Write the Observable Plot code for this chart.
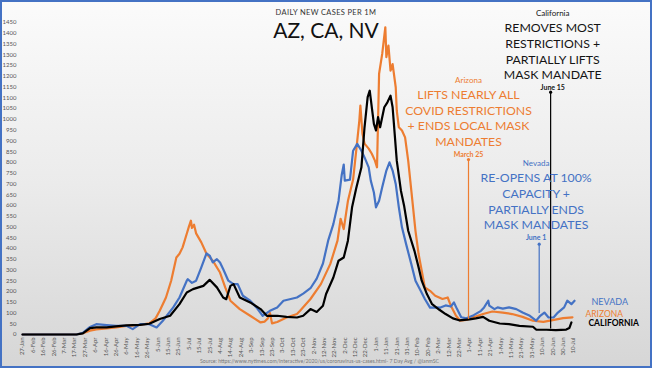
<!DOCTYPE html>
<html>
<head>
<meta charset="utf-8">
<script src="https://cdn.jsdelivr.net/npm/d3@7"></script>
<script src="https://cdn.jsdelivr.net/npm/@observablehq/plot@0.6"></script>
<style>
html, body { margin: 0; padding: 0; background: #fff; }
#frame { position: relative; width: 652px; height: 368px; overflow: hidden;
  background: linear-gradient(#fbfbfb 0%, #ebebeb 50%, #d6d6d6 100%);
  font-family: Lato, "Open Sans", sans-serif; }
#chart { position: absolute; left: 0; top: 0; }
#border { position: absolute; left: 0; top: 0; width: 652px; height: 368px; box-sizing: border-box;
  border: 2px solid #4472c4; pointer-events: none; }
.hdr { position: absolute; left: 176px; width: 300px; text-align: center; line-height: 1; white-space: nowrap; }
#sub { top: 8.5px; font-size: 7.5px; color: #333; letter-spacing: 0.35px; }
#title { top: 19px; font-size: 21px; color: #111; }
#source { position: absolute; left: 200px; top: 359px; font-size: 5.2px; color: #777; line-height: 1; white-space: nowrap; }
</style>
</head>
<body>
<div id="frame">
  <div id="chart"></div>
  <div class="hdr" id="sub">DAILY NEW CASES PER 1M</div>
  <div class="hdr" id="title">AZ, CA, NV</div>
  <div id="source">Source: https://www.nytimes.com/interactive/2020/us/coronavirus-us-cases.html- 7 Day Avg / @ianmSC</div>
  <div id="border"></div>
</div>
<script>
// ---- data (7-day avg daily new cases per 1M) ----
const arizona = [["2020-01-27",0],["2020-03-03",0],["2020-03-19",1],["2020-03-25",6],["2020-04-01",18],["2020-04-07",24],["2020-04-17",28],["2020-04-26",33],["2020-05-06",40],["2020-05-19",45],["2020-05-28",52],["2020-06-03",75],["2020-06-07",110],["2020-06-13",172],["2020-06-18",250],["2020-06-23",358],["2020-06-26",375],["2020-06-29",405],["2020-07-03",468],["2020-07-05",500],["2020-07-07",529],["2020-07-08",495],["2020-07-10",510],["2020-07-12",470],["2020-07-17",428],["2020-07-22",375],["2020-07-28",343],["2020-08-04",288],["2020-08-09",219],["2020-08-14",157],["2020-08-23",118],["2020-09-02",87],["2020-09-12",56],["2020-09-16",60],["2020-09-19",75],["2020-09-21",100],["2020-09-23",52],["2020-09-28",58],["2020-10-07",79],["2020-10-17",95],["2020-10-20",110],["2020-10-30",165],["2020-11-09",234],["2020-11-18",327],["2020-11-25",436],["2020-11-28",538],["2020-12-01",490],["2020-12-05",620],["2020-12-10",720],["2020-12-13",854],["2020-12-16",994],["2020-12-17",1064],["2020-12-19",933],["2020-12-21",887],["2020-12-25",864],["2020-12-28",840],["2020-12-31",808],["2021-01-02",777],["2021-01-04",1212],["2021-01-07",1304],["2021-01-10",1428],["2021-01-11",1289],["2021-01-13",1343],["2021-01-15",1226],["2021-01-17",1257],["2021-01-20",1149],["2021-01-21",1040],["2021-01-23",963],["2021-01-26",948],["2021-01-29",916],["2021-02-01",808],["2021-02-03",715],["2021-02-05",622],["2021-02-08",482],["2021-02-11",374],["2021-02-14",296],["2021-02-17",219],["2021-02-22",203],["2021-02-27",180],["2021-03-06",165],["2021-03-11",172],["2021-03-14",134],["2021-03-19",87],["2021-03-23",64],["2021-03-29",68],["2021-04-04",79],["2021-04-14",95],["2021-04-23",107],["2021-05-03",102],["2021-05-12",95],["2021-05-22",82],["2021-06-01",64],["2021-06-11",59],["2021-06-20",67],["2021-06-30",76],["2021-07-09",80]];

const california = [["2020-01-27",0],["2020-03-19",0],["2020-03-25",5],["2020-04-01",30],["2020-04-07",33],["2020-04-17",33],["2020-04-26",38],["2020-05-06",42],["2020-05-19",45],["2020-05-28",50],["2020-06-07",72],["2020-06-17",87],["2020-06-26",141],["2020-07-03",195],["2020-07-09",211],["2020-07-19",226],["2020-07-25",254],["2020-08-01",219],["2020-08-07",172],["2020-08-10",164],["2020-08-14",226],["2020-08-17",234],["2020-08-23",172],["2020-09-02",149],["2020-09-12",118],["2020-09-18",87],["2020-09-28",87],["2020-10-07",82],["2020-10-17",79],["2020-10-23",87],["2020-10-30",118],["2020-11-05",105],["2020-11-11",134],["2020-11-14",188],["2020-11-21",265],["2020-11-26",343],["2020-12-01",358],["2020-12-05",436],["2020-12-09",591],["2020-12-13",680],["2020-12-18",777],["2020-12-21",963],["2020-12-24",1103],["2020-12-26",1133],["2020-12-28",1056],["2020-12-30",979],["2021-01-01",948],["2021-01-03",1010],["2021-01-05",963],["2021-01-09",1056],["2021-01-12",1079],["2021-01-15",1110],["2021-01-17",1056],["2021-01-19",932],["2021-01-21",808],["2021-01-25",668],["2021-01-28",600],["2021-02-01",482],["2021-02-07",389],["2021-02-11",312],["2021-02-14",250],["2021-02-19",188],["2021-02-24",141],["2021-03-03",115],["2021-03-09",95],["2021-03-16",75],["2021-03-22",66],["2021-04-01",70],["2021-04-07",75],["2021-04-14",82],["2021-04-20",64],["2021-04-30",51],["2021-05-09",48],["2021-05-19",40],["2021-06-01",36],["2021-06-04",23],["2021-06-14",22],["2021-06-23",20],["2021-07-03",23],["2021-07-06",30],["2021-07-08",56]];

const nevada = [["2020-01-27",0],["2020-03-19",0],["2020-03-25",8],["2020-04-01",35],["2020-04-07",48],["2020-04-17",44],["2020-04-26",40],["2020-05-06",40],["2020-05-12",25],["2020-05-19",48],["2020-05-28",48],["2020-06-04",33],["2020-06-10",64],["2020-06-20",126],["2020-06-26",172],["2020-07-03",250],["2020-07-04",257],["2020-07-08",240],["2020-07-12",250],["2020-07-17",312],["2020-07-22",377],["2020-07-25",367],["2020-07-28",335],["2020-08-01",350],["2020-08-04",335],["2020-08-07",304],["2020-08-12",250],["2020-08-17",234],["2020-08-21",234],["2020-08-26",180],["2020-09-02",157],["2020-09-08",126],["2020-09-14",87],["2020-09-21",110],["2020-09-28",126],["2020-10-04",157],["2020-10-10",164],["2020-10-17",172],["2020-10-23",190],["2020-10-30",215],["2020-11-05",260],["2020-11-11",330],["2020-11-16",436],["2020-11-21",513],["2020-11-26",622],["2020-11-29",740],["2020-12-01",790],["2020-12-02",715],["2020-12-07",720],["2020-12-10",854],["2020-12-14",886],["2020-12-18",854],["2020-12-21",823],["2020-12-25",777],["2020-12-27",715],["2020-12-30",660],["2021-01-01",591],["2021-01-04",622],["2021-01-07",684],["2021-01-11",762],["2021-01-14",800],["2021-01-17",762],["2021-01-20",700],["2021-01-23",591],["2021-01-26",498],["2021-01-30",420],["2021-02-04",327],["2021-02-08",250],["2021-02-13",203],["2021-02-17",165],["2021-02-22",125],["2021-02-27",126],["2021-03-04",125],["2021-03-09",135],["2021-03-14",130],["2021-03-17",149],["2021-03-20",118],["2021-03-24",80],["2021-03-29",75],["2021-04-05",90],["2021-04-12",110],["2021-04-15",126],["2021-04-19",157],["2021-04-20",134],["2021-04-25",118],["2021-04-28",126],["2021-05-03",120],["2021-05-09",126],["2021-05-16",118],["2021-05-22",102],["2021-05-29",87],["2021-06-04",64],["2021-06-08",87],["2021-06-12",102],["2021-06-16",79],["2021-06-21",80],["2021-06-25",102],["2021-07-01",126],["2021-07-04",157],["2021-07-08",141],["2021-07-11",157]];

const yTicks = [0,50,100,150,200,250,300,350,400,450,500,550,600,650,700,750,800,850,900,950,1000,1050,1100,1150,1200,1250,1300,1350,1400,1450];
const xTickDates = ["2020-01-27","2020-02-06","2020-02-16","2020-02-26","2020-03-07","2020-03-17","2020-03-27","2020-04-06","2020-04-16","2020-04-26","2020-05-06","2020-05-16","2020-05-26","2020-06-05","2020-06-15","2020-06-25","2020-07-05","2020-07-15","2020-07-25","2020-08-04","2020-08-14","2020-08-24","2020-09-03","2020-09-13","2020-09-23","2020-10-03","2020-10-13","2020-10-23","2020-11-02","2020-11-12","2020-11-22","2020-12-02","2020-12-12","2020-12-22","2021-01-01","2021-01-11","2021-01-21","2021-01-31","2021-02-10","2021-02-20","2021-03-02","2021-03-12","2021-03-22","2021-04-01","2021-04-11","2021-04-21","2021-05-01","2021-05-11","2021-05-21","2021-05-31","2021-06-10","2021-06-20","2021-06-30","2021-07-10"];

// event markers: state, date drawn, span of the marker line
const events = [
  {state: "Arizona", date: "2021-03-31", low: 70, high: 813},
  {state: "Nevada", date: "2021-06-07", low: 98, high: 420},
  {state: "California", date: "2021-06-18", low: 25, high: 1126}
];
const eventTexts = {
  Arizona: {who: "Arizona", what: "LIFTS NEARLY ALL\nCOVID RESTRICTIONS\n+ ENDS LOCAL MASK\nMANDATES", when: "March 25"},
  Nevada: {who: "Nevada", what: "RE-OPENS AT 100%\nCAPACITY +\nPARTIALLY ENDS\nMASK MANDATES", when: "June 1"},
  California: {who: "California", what: "REMOVES MOST\nRESTRICTIONS +\nPARTIALLY LIFTS\nMASK MANDATE", when: "June 15"}
};
const endLabels = ["NEVADA", "ARIZONA", "CALIFORNIA"];

// ---- drawing ----
const parse = d3.utcParse("%Y-%m-%d");
const rows = (arr) => arr.map(([d, v]) => ({date: parse(d), value: v}));
const fmt = d3.utcFormat("%-d-%b");
const colors = {Arizona: "#ED7D31", Nevada: "#4472C4", California: "#000000"};
const textColors = {Arizona: "#ED7D31", Nevada: "#4472C4", California: "#141414"};
const ev = events.map(e => ({...e, date: parse(e.date)}));

function annot(state, xDate, yWho, yWhat, yWhen) {
  const t = eventTexts[state], c = textColors[state], d = parse(xDate);
  return [
    Plot.text([t.who], {x: [d], y: [yWho], text: d => d, fill: c, fontSize: 8, textAnchor: "middle"}),
    Plot.text([t.what], {x: [d], y: [yWhat], text: d => d, fill: c, fontSize: 12.3, lineHeight: 1.27, textAnchor: "middle", lineAnchor: "middle"}),
    Plot.text([t.when], {x: [d], y: [yWhen], text: d => d, fill: c, fontSize: 7, fontWeight: "bold", textAnchor: "middle"})
  ];
}

const lastDate = parse("2021-07-10");

const chart = Plot.plot({
  width: 652,
  height: 368,
  marginLeft: 22,
  marginRight: 79,
  marginTop: 22,
  marginBottom: 34,
  style: {background: "transparent", fontFamily: "Lato, sans-serif", overflow: "visible"},
  x: {type: "utc", domain: [parse("2020-01-27"), lastDate]},
  y: {domain: [0, 1450]},
  marks: [
    Plot.axisY({ticks: yTicks, tickFormat: d3.format("d"), tickSize: 0, tickPadding: 6, fontSize: 6, color: "#555", label: null}),
    Plot.axisX({ticks: xTickDates.map(parse), tickFormat: fmt, tickSize: 0, tickPadding: 3, tickRotate: -90, fontSize: 6, color: "#555", label: null}),
    Plot.line(rows(arizona), {x: "date", y: "value", stroke: colors.Arizona, strokeWidth: 2.2}),
    Plot.line(rows(nevada), {x: "date", y: "value", stroke: colors.Nevada, strokeWidth: 2.2}),
    Plot.line(rows(california), {x: "date", y: "value", stroke: colors.California, strokeWidth: 2.2}),
    Plot.ruleX(ev, {x: "date", y1: "low", y2: "high", stroke: d => colors[d.state], strokeWidth: 1.2}),
    Plot.dot(ev, {x: "date", y: "high", fill: d => colors[d.state], r: 1.6}),
    ...annot("California", "2021-06-20", 1490, 1318, 1148),
    ...annot("Arizona", "2021-03-31", 1183, 1009, 836),
    ...annot("Nevada", "2021-06-04", 796, 621, 451),
    Plot.text([endLabels[0]], {x: [lastDate], y: [152], text: d => d, fill: colors.Nevada, fontSize: 9, textAnchor: "start", dx: 18}),
    Plot.text([endLabels[1]], {x: [lastDate], y: [95], text: d => d, fill: colors.Arizona, fontSize: 8.5, textAnchor: "start", dx: 12}),
    Plot.text([endLabels[2]], {x: [lastDate], y: [52], text: d => d, fill: "#000", fontSize: 8.5, fontWeight: "bold", textAnchor: "start", dx: 15})
  ]
});
document.getElementById("chart").appendChild(chart);
</script>
</body>
</html>
